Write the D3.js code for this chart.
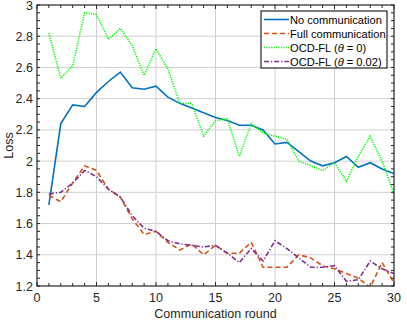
<!DOCTYPE html>
<html>
<head>
<meta charset="utf-8">
<script src="https://cdn.jsdelivr.net/npm/d3@7"></script>
<style>
body { margin: 0; background: #fff; }
text { font-family: "Liberation Sans", Arial, sans-serif; }
</style>
</head>
<body>
<svg width="407" height="322"></svg>
<script>
// values, round 1..30
var rounds = d3.range(1, 31)
var noComm = [1.72, 2.24, 2.36, 2.35, 2.44, 2.51, 2.57, 2.47, 2.46, 2.48,
  2.41, 2.37, 2.34, 2.31, 2.28, 2.26, 2.23, 2.23, 2.20, 2.11,
  2.12, 2.06, 2.00, 1.97, 1.99, 2.03, 1.96, 1.99, 1.95, 1.92]
var fullComm = [1.78, 1.74, 1.86, 1.97, 1.94, 1.82, 1.77, 1.63, 1.53, 1.55,
  1.48, 1.43, 1.47, 1.40, 1.46, 1.41, 1.41, 1.48, 1.32, 1.32,
  1.32, 1.40, 1.38, 1.33, 1.31, 1.28, 1.25, 1.19, 1.35, 1.22]
var ocd0 = [2.82, 2.53, 2.61, 2.95, 2.94, 2.78, 2.85, 2.74, 2.55, 2.72,
  2.59, 2.37, 2.37, 2.16, 2.26, 2.27, 2.03, 2.24, 2.18, 2.16,
  2.14, 2.00, 1.97, 1.94, 1.99, 1.87, 2.03, 2.16, 2.00, 1.79]
var ocd002 = [1.79, 1.80, 1.86, 1.94, 1.90, 1.82, 1.77, 1.65, 1.57, 1.55,
  1.49, 1.47, 1.46, 1.45, 1.46, 1.41, 1.35, 1.44, 1.36, 1.49,
  1.44, 1.38, 1.32, 1.32, 1.33, 1.23, 1.24, 1.36, 1.31, 1.28]
var xTicks = [0, 5, 10, 15, 20, 25, 30]
var yTicks = [1.2, 1.4, 1.6, 1.8, 2, 2.2, 2.4, 2.6, 2.8, 3]
var seriesNames = ['No communication', 'Full communication', 'OCD-FL', 'OCD-FL']
var thetaLabels = [null, null, '0', '0.02']

var svg = d3.select('svg')
var pLeft = 37, pRight = 394, pTop = 5, pBottom = 286

var x = d3.scaleLinear().domain([0, 30]).range([pLeft, pRight])
var y = d3.scaleLinear().domain([1.2, 3]).range([pBottom, pTop])

var series = [
  {vals: noComm, color: '#0072BD', dash: null, w: 1.6},
  {vals: fullComm, color: '#D95319', dash: '5,3', w: 1.6},
  {vals: ocd0, color: '#00FF00', dash: '1.2,1.2', w: 1.6},
  {vals: ocd002, color: '#7E2F8E', dash: '5,2,1.2,2', w: 1.6}
]

// grid
var grid = svg.append('g')
grid.selectAll('.gx').data(xTicks.slice(1, -1)).enter().append('line')
  .attr('x1', d => x(d)).attr('x2', d => x(d))
  .attr('y1', pTop).attr('y2', pBottom)
  .attr('stroke', '#d0d0d0').attr('stroke-width', 1)
grid.selectAll('.gy').data(yTicks.slice(1, -1)).enter().append('line')
  .attr('x1', pLeft).attr('x2', pRight)
  .attr('y1', d => y(d)).attr('y2', d => y(d))
  .attr('stroke', '#d0d0d0').attr('stroke-width', 1)

// lines
svg.append('clipPath').attr('id', 'clip').append('rect')
  .attr('x', pLeft).attr('y', pTop).attr('width', pRight - pLeft).attr('height', pBottom - pTop)

var line = d3.line().x((d, i) => x(rounds[i])).y(d => y(d))
svg.append('g').attr('clip-path', 'url(#clip)')
  .selectAll('path').data(series).enter().append('path')
  .attr('d', d => line(d.vals))
  .attr('fill', 'none')
  .attr('stroke', d => d.color)
  .attr('stroke-width', d => d.w)
  .attr('stroke-dasharray', d => d.dash)

// axes, MATLAB style ticks inward on all sides
var minorX = d3.range(0, 31)
var minorY = d3.range(0, 37).map(i => 1.2 + i * 0.05)
var tg = svg.append('g').attr('stroke', '#262626')
minorX.forEach(function(v) {
  var len = xTicks.indexOf(v) >= 0 ? 4 : 3
  tg.append('line').attr('x1', x(v)).attr('x2', x(v)).attr('y1', pBottom).attr('y2', pBottom - len)
  tg.append('line').attr('x1', x(v)).attr('x2', x(v)).attr('y1', pTop).attr('y2', pTop + len)
})
minorY.forEach(function(v) {
  tg.append('line').attr('x1', pLeft).attr('x2', pLeft + 3).attr('y1', y(v)).attr('y2', y(v))
  tg.append('line').attr('x1', pRight).attr('x2', pRight - 3).attr('y1', y(v)).attr('y2', y(v))
})
svg.append('rect').attr('x', pLeft).attr('y', pTop)
  .attr('width', pRight - pLeft).attr('height', pBottom - pTop)
  .attr('fill', 'none').attr('stroke', '#262626').attr('stroke-width', 1.2)

svg.append('g').selectAll('text').data(xTicks).enter().append('text')
  .attr('x', d => x(d)).attr('y', pBottom + 16)
  .attr('text-anchor', 'middle').attr('font-size', 12.5).attr('fill', '#262626')
  .text(d => d)
svg.append('g').selectAll('text').data(yTicks).enter().append('text')
  .attr('x', pLeft - 4).attr('y', d => y(d) + 4.5)
  .attr('text-anchor', 'end').attr('font-size', 12.5).attr('fill', '#262626')
  .text(d => d)

svg.append('text').attr('x', (pLeft + pRight) / 2).attr('y', 318)
  .attr('text-anchor', 'middle').attr('font-size', 12.5).attr('fill', '#262626')
  .text('Communication round')
svg.append('text').attr('transform', 'translate(13,' + (pTop + pBottom) / 2 + ') rotate(-90)')
  .attr('text-anchor', 'middle').attr('font-size', 12.5).attr('fill', '#262626')
  .text('Loss')

// legend
var lg = svg.append('g')
lg.append('rect').attr('x', 261).attr('y', 11).attr('width', 126).attr('height', 57)
  .attr('fill', '#fff').attr('stroke', '#262626').attr('stroke-width', 1.2)
series.forEach(function(s, i) {
  var ly = 19.5 + i * 14
  lg.append('line').attr('x1', 264).attr('x2', 289).attr('y1', ly).attr('y2', ly)
    .attr('stroke', s.color).attr('stroke-width', s.w).attr('stroke-dasharray', s.dash)
  var t = lg.append('text').attr('x', 290).attr('y', ly + 4).attr('font-size', 11.1).attr('fill', '#000')
  if (thetaLabels[i] == null) {
    t.text(seriesNames[i])
  } else {
    t.append('tspan').text(seriesNames[i] + ' (')
    t.append('tspan').attr('font-style', 'italic').text('θ')
    t.append('tspan').text(' = ' + thetaLabels[i] + ')')
  }
})
</script>
</body>
</html>
